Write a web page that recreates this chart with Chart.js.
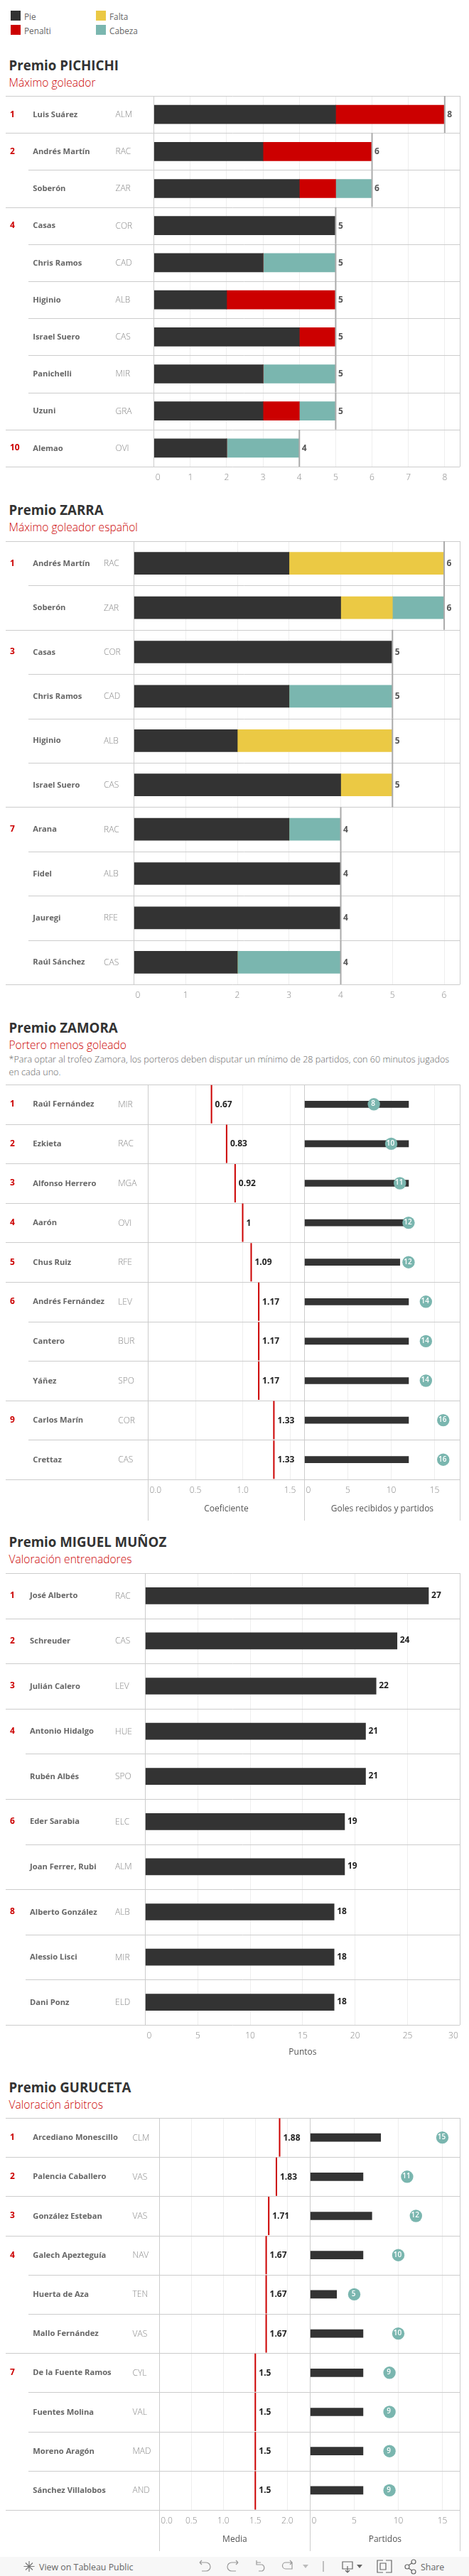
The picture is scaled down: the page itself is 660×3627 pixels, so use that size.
<!DOCTYPE html>
<html lang="es">
<head>
<meta charset="utf-8">
<title>Premios LaLiga</title>
<script src="https://cdn.jsdelivr.net/npm/chart.js@4/dist/chart.umd.min.js"></script>
<style>
html,body{margin:0;padding:0;background:#fff;}
#page{position:relative;width:660px;height:3627px;overflow:hidden;font-family:"Open Sans",sans-serif;}
canvas{position:absolute;left:0;display:block;}
.t{position:absolute;white-space:nowrap;transform:translateY(-50%);}
.title{left:12.5px;font-size:18.7px;font-weight:700;color:#333;}
.sub{left:12.5px;font-size:15.6px;color:#cc0000;font-weight:300;}
.note{left:12.5px;font-size:12.6px;color:#666;font-weight:300;}
.leg{font-size:11.8px;color:#666;}
.sw{position:absolute;width:14px;height:14px;}
#bar{position:absolute;left:0;top:3600px;width:660px;height:27px;background:#f7f7f7;}
#bar svg{position:absolute;left:0;top:0;}
#bar .t{font-size:12.4px;color:#666;top:13.5px;}
</style>
</head>
<body>
<div id="page">
  <div class="sw" style="left:15px;top:15px;background:#333333"></div><div class="t leg" style="left:34px;top:23px">Pie</div>
  <div class="sw" style="left:15px;top:35px;background:#cc0000"></div><div class="t leg" style="left:34px;top:43px">Penalti</div>
  <div class="sw" style="left:135px;top:15px;background:#ebc944"></div><div class="t leg" style="left:154px;top:23px">Falta</div>
  <div class="sw" style="left:135px;top:35px;background:#7ab6af"></div><div class="t leg" style="left:154px;top:43px">Cabeza</div>

  <div class="t title" style="top:91px">Premio PICHICHI</div>
  <div class="t sub" style="top:116px">Máximo goleador</div>
  <div class="t title" style="top:717px">Premio ZARRA</div>
  <div class="t sub" style="top:742px">Máximo goleador español</div>
  <div class="t title" style="top:1446px">Premio ZAMORA</div>
  <div class="t sub" style="top:1471px">Portero menos goleado</div>
  <div class="t note" style="top:1491px">*Para optar al trofeo Zamora, los porteros deben disputar un mínimo de 28 partidos, con 60 minutos jugados</div>
  <div class="t note" style="top:1509px">en cada uno.</div>
  <div class="t title" style="top:2170px">Premio MIGUEL MUÑOZ</div>
  <div class="t sub" style="top:2195px">Valoración entrenadores</div>
  <div class="t title" style="top:2938px">Premio GURUCETA</div>
  <div class="t sub" style="top:2963px">Valoración árbitros</div>

  <canvas id="c1"></canvas>
  <canvas id="c2"></canvas>
  <canvas id="c3a"></canvas>
  <canvas id="c3b"></canvas>
  <canvas id="c4"></canvas>
  <canvas id="c5a"></canvas>
  <canvas id="c5b"></canvas>

  <div id="bar">
    <svg width="660" height="27" fill="none" stroke="#999" stroke-width="1.2">
      <g stroke="#777"><path d="M41 6v15M33.5 13.5h15M36 8.5l10 10M46 8.5l-10 10"/></g>
      <path d="M281 8h9a6 6 0 0 1 0 12h-6M281 8l3-3M281 8l3 3"/>
      <path d="M335 8h-9a6 6 0 0 0 0 12h6M335 8l-3-3M335 8l-3 3"/>
      <path d="M361 5v6h8a5 5 0 0 1 0 9h-5M361 8h6"/>
      <path d="M411 8h-9a4 4 0 0 0 0 9h9v-9M408 5l3 3-3 3"/>
      <path d="M426 11h8l-4 5z" fill="#bbb" stroke="none"/>
      <path d="M455 6v15"/>
      <g stroke="#666"><path d="M482 7h14v10h-14zM489 13v9M486 19l3 3 3-3"/>
      <path d="M541 5h-8v17h8M545 5h8v17h-8M537 9h8v9h-8z" transform="translate(-2,0)"/>
      <circle cx="573" cy="14" r="3"/><circle cx="582" cy="7" r="3"/><circle cx="582" cy="21" r="3"/><path d="M575 12l5-3.5M575 16l5 3.5"/></g>
      <path d="M502 11h8l-4 5z" fill="#666" stroke="none"/>
    </svg>
    <div class="t" style="left:55px">View on Tableau Public</div>
    <div class="t" style="left:592px">Share</div>
  </div>
</div>

<script>
/* ---------- data: Premio Pichichi ---------- */
const pichichiRanks   = ['1','2','','4','','','','','','10'];
const pichichiPlayers = ['Luis Suárez','Andrés Martín','Soberón','Casas','Chris Ramos','Higinio','Israel Suero','Panichelli','Uzuni','Alemao'];
const pichichiTeams   = ['ALM','RAC','ZAR','COR','CAD','ALB','CAS','MIR','GRA','OVI'];
const pichichiPie     = [5,3,4,5,3,2,4,3,3,2];
const pichichiPenalti = [3,3,1,0,0,3,1,0,1,0];
const pichichiCabeza  = [0,0,1,0,2,0,0,2,1,2];
const pichichiTotal   = [8,6,6,5,5,5,5,5,5,4];

/* ---------- data: Premio Zarra ---------- */
const zarraRanks   = ['1','','3','','','','7','','',''];
const zarraPlayers = ['Andrés Martín','Soberón','Casas','Chris Ramos','Higinio','Israel Suero','Arana','Fidel','Jauregi','Raúl Sánchez'];
const zarraTeams   = ['RAC','ZAR','COR','CAD','ALB','CAS','RAC','ALB','RFE','CAS'];
const zarraPie     = [3,4,5,3,2,4,3,4,4,2];
const zarraFalta   = [3,1,0,0,3,1,0,0,0,0];
const zarraCabeza  = [0,1,0,2,0,0,1,0,0,2];
const zarraTotal   = [6,6,5,5,5,5,4,4,4,4];

/* ---------- data: Premio Zamora ---------- */
const zamoraRanks    = ['1','2','3','4','5','6','','','9',''];
const zamoraPlayers  = ['Raúl Fernández','Ezkieta','Alfonso Herrero','Aarón','Chus Ruiz','Andrés Fernández','Cantero','Yáñez','Carlos Marín','Crettaz'];
const zamoraTeams    = ['MIR','RAC','MGA','OVI','RFE','LEV','BUR','SPO','COR','CAS'];
const zamoraCoef     = [0.67,0.83,0.92,1,1.09,1.17,1.17,1.17,1.33,1.33];
const zamoraPartidos = [12,12,12,12,11,12,12,12,12,12];
const zamoraGoles    = [8,10,11,12,12,14,14,14,16,16];

/* ---------- data: Premio Miguel Muñoz ---------- */
const munozRanks   = ['1','2','3','4','','6','','8','',''];
const munozPlayers = ['José Alberto','Schreuder','Julián Calero','Antonio Hidalgo','Rubén Albés','Eder Sarabia','Joan Ferrer, Rubi','Alberto González','Alessio Lisci','Dani Ponz'];
const munozTeams   = ['RAC','CAS','LEV','HUE','SPO','ELC','ALM','ALB','MIR','ELD'];
const munozPuntos  = [27,24,22,21,21,19,19,18,18,18];

/* ---------- data: Premio Guruceta ---------- */
const gurucetaRanks    = ['1','2','3','4','','','7','','',''];
const gurucetaPlayers  = ['Arcediano Monescillo','Palencia Caballero','González Esteban','Galech Apezteguía','Huerta de Aza','Mallo Fernández','De la Fuente Ramos','Fuentes Molina','Moreno Aragón','Sánchez Villalobos'];
const gurucetaTeams    = ['CLM','VAS','VAS','NAV','TEN','VAS','CYL','VAL','MAD','AND'];
const gurucetaMedia    = [1.88,1.83,1.71,1.67,1.67,1.67,1.5,1.5,1.5,1.5];
const gurucetaBarras   = [8,6,7,6,3,6,6,6,6,6];
const gurucetaPartidos = [15,11,12,10,5,10,9,9,9,9];

/* ---------- styles ---------- */
const DARK='#333333', RED='#cc0000', YELLOW='#ebc944', TEAL='#7ab6af', RULE='#cccccc', GRID='#eeeeee';
const FONT='"Open Sans", sans-serif';

Chart.defaults.font.family = FONT;
Chart.defaults.animation = false;

const cellPlugin = {
  id:'cells',
  beforeDraw(chart){
    /* keep the first and last tick label inside their pane */
    const x = chart.scales.x, a = chart.chartArea, ctx = chart.ctx;
    x.getLabelItems().forEach(it=>{
      ctx.save(); ctx.font = it.font.string;
      const w = ctx.measureText(String(it.label)).width; ctx.restore();
      const cx = it.options.translation[0];
      if (cx - w/2 < a.left + 2) it.options.translation[0] = a.left + 2 + w/2;
      if (cx + w/2 > a.right - 2.5) it.options.translation[0] = a.right - 2.5 - w/2;
    });
  },
  beforeDatasetsDraw(chart){
    const o = chart.options.plugins.cells, a = chart.chartArea, ctx = chart.ctx, n = chart.scales.y.ticks.length;
    ctx.save();
    ctx.strokeStyle = RULE; ctx.lineWidth = 1;
    const h = (a.bottom-a.top)/n;
    for (let i=0;i<=n;i++){
      const y = Math.round(a.top+i*h)+0.5;
      let from = o.ruleLeft;
      if (o.rowText && i>0 && i<n && !o.rowText.ranks[i]) from = o.ruleIndent;
      ctx.beginPath(); ctx.moveTo(from,y); ctx.lineTo(a.right,y); ctx.stroke();
    }
    const bottom = a.bottom + (o.dividerDrop||0);
    (o.dividers||[]).forEach(dx=>{
      const px = Math.round(dx)+0.5;
      ctx.beginPath(); ctx.moveTo(px,a.top); ctx.lineTo(px,bottom); ctx.stroke();
    });
    ctx.restore();
  },
  afterDatasetsDraw(chart){
    const o = chart.options.plugins.cells, ctx = chart.ctx, x = chart.scales.x, y = chart.scales.y;
    ctx.save();
    ctx.textBaseline='middle'; ctx.textAlign='left';
    const r = o.rowText;
    if (r){
      r.players.forEach((p,i)=>{
        const py = y.getPixelForValue(i)+0.5;
        if (r.ranks[i]){ ctx.font='700 12px '+FONT; ctx.fillStyle=RED; ctx.fillText(r.ranks[i],14,py-0.5); }
        ctx.font='700 11.2px '+FONT; ctx.fillStyle='#666'; ctx.fillText(p,r.nameX,py);
        ctx.font='300 12px '+FONT; ctx.fillStyle='#888'; ctx.fillText(r.teams[i],r.teamX,py);
      });
    }
    if (o.values){
      o.values.data.forEach((v,i)=>{
        ctx.font='700 12px '+FONT; ctx.fillStyle=o.values.color;
        ctx.fillText(String(v), x.getPixelForValue(v)+o.values.gap, y.getPixelForValue(i)+o.values.dy);
      });
    }
    if (o.circles){
      ctx.textAlign='center'; ctx.font='600 10px '+FONT; ctx.fillStyle='#fff';
      o.circles.forEach((v,i)=>ctx.fillText(String(v), x.getPixelForValue(v)-1, y.getPixelForValue(i)-0.5));
    }
    ctx.restore();
  }
};

function build(id, g, labels, datasets, cells, step, digits, axisTitle){
  const cv = document.getElementById(id);
  const pad = 2;
  cv.width = 660;
  cv.height = g.bottom - g.top + pad + g.axisH;
  cv.style.top = (g.top-pad)+'px';
  cells.ruleLeft = cells.ruleLeft===undefined ? 8 : cells.ruleLeft;
  return new Chart(cv,{
    type:'bar',
    plugins:[cellPlugin],
    data:{labels,datasets},
    options:{
      responsive:false,
      indexAxis:'y',
      maintainAspectRatio:false,
      layout:{autoPadding:false,padding:{left:g.left,right:660-g.right,top:pad,bottom:0}},
      plugins:{legend:{display:false},tooltip:{enabled:false},cells},
      scales:{
        y:{type:'category',display:false,stacked:true,offset:true},
        x:{
          type:'linear',min:0,max:g.max,stacked:g.stacked,
          border:{display:false},
          grid:{drawTicks:false,tickLength:0,color:c=>c.tick&&c.tick.value===0?RULE:GRID,lineWidth:1},
          ticks:{stepSize:step,includeBounds:false,autoSkip:false,maxRotation:0,padding:g.tickPad||8,
                 color:'#888',font:{size:12,family:FONT,weight:'300'},
                 callback:v=>digits?Number(v).toFixed(digits):String(v)},
          title:axisTitle?{display:true,text:axisTitle,color:'#555',font:{size:12,family:FONT},padding:{top:0,bottom:g.titlePad}}:{display:false},
          afterFit(s){s.height=g.axisH;s.paddingLeft=0;s.paddingRight=0;}
        }
      }
    }
  });
}

function bars(label,data,color,t){return {type:'bar',label,data,backgroundColor:color,barThickness:t,order:2,borderWidth:0};}
function rule(label,data,color,radius){return {type:'line',label,data,showLine:false,pointStyle:'line',pointRotation:90,pointRadius:radius,pointHoverRadius:radius,pointBorderColor:color,pointBorderWidth:2,order:1};}
function dots(label,data,radius){return {type:'line',label,data,showLine:false,pointStyle:'circle',pointRadius:radius,pointHoverRadius:radius,pointBackgroundColor:TEAL,pointBorderColor:TEAL,pointBorderWidth:0,order:1,clip:false};}

/* Pichichi */
build('c1',{top:135,bottom:657,left:216.7,right:647.3,max:8.42,axisH:28,stacked:true},pichichiPlayers,[
  bars('Pie',pichichiPie,DARK,26),bars('Penalti',pichichiPenalti,RED,26),bars('Cabeza',pichichiCabeza,TEAL,26),
  rule('Total',pichichiTotal,'#aaaaaa',26)
],{ruleIndent:40,dividers:[647],rowText:{ranks:pichichiRanks,players:pichichiPlayers,teams:pichichiTeams,nameX:46.3,teamX:162.5},
   values:{data:pichichiTotal,color:'#555',gap:3.5,dy:0.5}},1,0);

/* Zarra */
build('c2',{top:762,bottom:1386,left:188.5,right:647.3,max:6.306,axisH:28,stacked:true},zarraPlayers,[
  bars('Pie',zarraPie,DARK,31),bars('Falta',zarraFalta,YELLOW,31),bars('Cabeza',zarraCabeza,TEAL,31),
  rule('Total',zarraTotal,'#aaaaaa',31.2)
],{ruleIndent:40,dividers:[647],rowText:{ranks:zarraRanks,players:zarraPlayers,teams:zarraTeams,nameX:46.3,teamX:146},
   values:{data:zarraTotal,color:'#555',gap:3.5,dy:0.5}},1,0);

/* Zamora */
build('c3a',{top:1527,bottom:2083,left:208.5,right:428.5,max:1.654,axisH:58,stacked:false,titlePad:9},zamoraPlayers,[
  rule('Coeficiente',zamoraCoef,RED,27)
],{ruleIndent:40,dividers:[208],dividerDrop:58,rowText:{ranks:zamoraRanks,players:zamoraPlayers,teams:zamoraTeams,nameX:46.3,teamX:166.2},
   values:{data:zamoraCoef,color:'#222',gap:5,dy:0.5}},0.5,1,'Coeficiente');
build('c3b',{top:1527,bottom:2083,left:428.5,right:647.3,max:17.93,axisH:58,stacked:false,titlePad:9},zamoraPlayers,[
  bars('Partidos',zamoraPartidos,DARK,9),dots('Goles recibidos',zamoraGoles,8.7)
],{ruleLeft:428.5,dividers:[428,647],dividerDrop:58,circles:zamoraGoles},5,0,'Goles recibidos y partidos');

/* Miguel Muñoz */
build('c4',{top:2215,bottom:2851,left:204.5,right:647.3,max:30,axisH:52,stacked:false,titlePad:6},munozPlayers,[
  bars('Puntos',munozPuntos,DARK,23)
],{ruleIndent:36,dividers:[647],rowText:{ranks:munozRanks,players:munozPlayers,teams:munozTeams,nameX:42,teamX:162},
   values:{data:munozPuntos,color:'#222',gap:4,dy:-0.5}},5,0,'Puntos');

/* Guruceta */
build('c5a',{top:2982,bottom:3534,left:224.3,right:436.5,max:2.358,axisH:58,stacked:false,titlePad:9},gurucetaPlayers,[
  rule('Media',gurucetaMedia,RED,27)
],{ruleIndent:40,dividers:[224],dividerDrop:58,rowText:{ranks:gurucetaRanks,players:gurucetaPlayers,teams:gurucetaTeams,nameX:46.3,teamX:186.5},
   values:{data:gurucetaMedia,color:'#222',gap:5,dy:0.5}},0.5,1,'Media');
build('c5b',{top:2982,bottom:3534,left:436.5,right:647.3,max:17,axisH:58,stacked:false,titlePad:9},gurucetaPlayers,[
  bars('Barras',gurucetaBarras,DARK,11),dots('Partidos',gurucetaPartidos,8.7)
],{ruleLeft:436.5,dividers:[436,647],dividerDrop:58,circles:gurucetaPartidos},5,0,'Partidos');
</script>
</body>
</html>
